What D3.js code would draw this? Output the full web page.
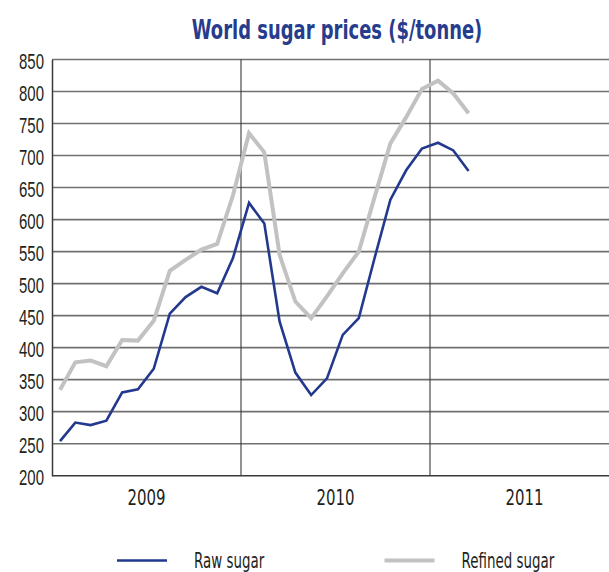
<!DOCTYPE html>
<html>
<head>
<meta charset="utf-8">
<script src="https://cdn.jsdelivr.net/npm/d3@7"></script>
<style>
  html, body { margin: 0; padding: 0; background: #fff; }
  svg { display: block; font-family: "DejaVu Sans", sans-serif; }
</style>
</head>
<body>
<div id="chart"></div>
<script>
(function (d3) {
    'use strict';

    // monthly observations, Jan 2009 - Mar 2011
    var months = [
        '2009-01', '2009-02', '2009-03', '2009-04', '2009-05', '2009-06',
        '2009-07', '2009-08', '2009-09', '2009-10', '2009-11', '2009-12',
        '2010-01', '2010-02', '2010-03', '2010-04', '2010-05', '2010-06',
        '2010-07', '2010-08', '2010-09', '2010-10', '2010-11', '2010-12',
        '2011-01', '2011-02', '2011-03'
    ];
    var rawSugar = [254, 283, 279, 286, 330, 335, 367, 453, 479, 495, 485, 540,
                    626, 594, 441, 361, 326, 352, 420, 446, 540, 631, 677, 711,
                    720, 708, 676];
    var refinedSugar = [334, 377, 380, 371, 412, 411, 442, 520, 537, 553, 562, 638,
                        735, 705, 545, 472, 446, 480, 516, 550, 635, 719, 760, 804,
                        817, 797, 766];
    var years = ['2009', '2010', '2011'];
    var yTicks = [200, 250, 300, 350, 400, 450, 500, 550, 600, 650, 700, 750, 800, 850];
    var seriesNames = ['Raw sugar', 'Refined sugar'];

    var width = 609, height = 572,
        margin = {top: 59.5, left: 52, bottom: 96},
        plotRight = 619,
        narrow = 0.68;   // no condensed face installed, so squeeze the text

    var parseMonth = d3.timeParse('%Y-%m');
    var parseYear = d3.timeParse('%Y');

    var x = d3.scaleTime()
        .domain([parseYear(years[0]), d3.timeYear.offset(parseYear(years[years.length - 1]), 1)])
        .range([margin.left, plotRight]);
    var y = d3.scaleLinear()
        .domain([200, 850])
        .range([height - margin.bottom - 0.3, margin.top]);

    // put each point in the middle of its month
    var midMonth = function (s) {
        var d = parseMonth(s);
        return new Date((+d + +d3.timeMonth.offset(d, 1)) / 2);
    };

    // move x/y into a transform so the glyphs can be narrowed in place
    var squeeze = function (sel, sx) {
        sel.each(function () {
            var t = d3.select(this),
                tx = +t.attr('x') || 0,
                ty = +t.attr('y') || 0;
            t.attr('x', 0).attr('y', 0)
                .attr('transform', 'translate(' + tx + ',' + ty + ') scale(' + sx + ',1)');
        });
    };

    var svg = d3.select('#chart').append('svg')
        .attr('width', width)
        .attr('height', height);

    svg.append('text')
        .attr('x', 337)
        .attr('y', 39)
        .attr('text-anchor', 'middle')
        .attr('fill', '#263c8c')
        .attr('font-weight', 'bold')
        .attr('font-size', '26px')
        .text('World sugar prices ($/tonne)')
        .call(squeeze, 0.69);

    // horizontal grid
    svg.append('g')
        .selectAll('line')
        .data(yTicks.slice(1))
        .enter().append('line')
        .attr('x1', margin.left).attr('x2', width)
        .attr('y1', function (d) { return y(d); })
        .attr('y2', function (d) { return y(d); })
        .attr('stroke', '#707070')
        .attr('stroke-width', 1.6);

    // year separators
    svg.append('g')
        .selectAll('line')
        .data(years.slice(1))
        .enter().append('line')
        .attr('x1', function (d) { return x(parseYear(d)); })
        .attr('x2', function (d) { return x(parseYear(d)); })
        .attr('y1', y(850)).attr('y2', y(200))
        .attr('stroke', '#3a3a3a')
        .attr('stroke-width', 1.1);

    // y axis
    var yAxis = svg.append('g')
        .attr('transform', 'translate(' + margin.left + ',0)')
        .call(d3.axisLeft(y).tickValues(yTicks).tickSize(0).tickPadding(8));
    yAxis.select('.domain').attr('stroke', '#3a3a3a').attr('stroke-width', 1.5);
    yAxis.selectAll('text')
        .attr('font-family', null)
        .attr('font-size', '22px')
        .attr('dy', '0.4em')
        .attr('fill', '#231f20')
        .call(squeeze, narrow);

    // bottom axis line
    svg.append('line')
        .attr('x1', margin.left).attr('x2', width)
        .attr('y1', y(200)).attr('y2', y(200))
        .attr('stroke', '#3a3a3a')
        .attr('stroke-width', 1.5);

    // year labels
    svg.append('g')
        .selectAll('text')
        .data(years)
        .enter().append('text')
        .attr('x', function (d) {
            var s = parseYear(d);
            return (x(s) + x(d3.timeYear.offset(s, 1))) / 2;
        })
        .attr('y', 504.5)
        .attr('text-anchor', 'middle')
        .attr('font-size', '22px')
        .attr('fill', '#231f20')
        .text(function (d) { return d; })
        .call(squeeze, narrow);

    var line = d3.line()
        .x(function (d, i) { return x(midMonth(months[i])); })
        .y(function (d) { return y(d); });

    svg.append('path')
        .datum(refinedSugar)
        .attr('fill', 'none')
        .attr('stroke', '#c2c2c2')
        .attr('stroke-width', 4)
        .attr('stroke-linejoin', 'miter')
        .attr('d', line);

    svg.append('path')
        .datum(rawSugar)
        .attr('fill', 'none')
        .attr('stroke', '#22398e')
        .attr('stroke-width', 2.6)
        .attr('stroke-linejoin', 'miter')
        .attr('d', line);

    // legend
    var legendColors = ['#22398e', '#c2c2c2'];
    var legendWidths = [2.6, 4];
    var legend = svg.append('g')
        .selectAll('g')
        .data(seriesNames)
        .enter().append('g')
        .attr('transform', function (d, i) { return 'translate(' + (117 + i * 267.5) + ',560.5)'; });
    legend.append('line')
        .attr('x1', 0).attr('x2', 50)
        .attr('stroke', function (d, i) { return legendColors[i]; })
        .attr('stroke-width', function (d, i) { return legendWidths[i]; });
    legend.append('text')
        .attr('x', 77)
        .attr('y', 7.5)
        .attr('font-size', '22px')
        .attr('fill', '#231f20')
        .text(function (d) { return d; })
        .call(squeeze, 0.61);
})(d3);
</script>
</body>
</html>
